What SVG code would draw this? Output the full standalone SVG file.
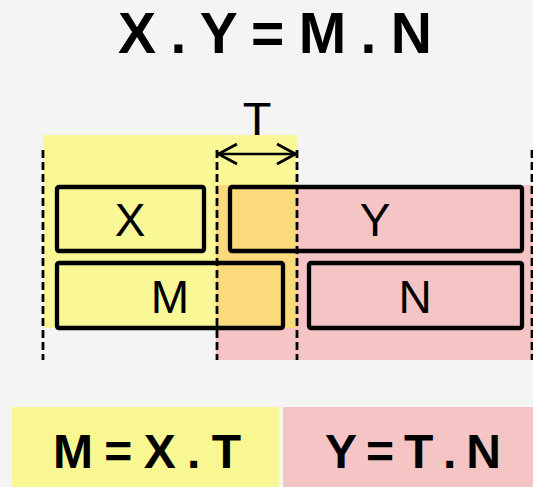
<svg xmlns="http://www.w3.org/2000/svg" width="533" height="487" viewBox="0 0 533 487">
  <style>
    .lbl { font-family: "Liberation Sans", Arial, sans-serif; fill: #000; text-anchor: middle; }
    .bold { font-weight: bold; }
    .box { fill: none; stroke: #000; stroke-width: 4.3; }
    .dash { stroke: #000; stroke-width: 2.8; stroke-dasharray: 8 4; fill: none; }
  </style>
  <defs>
    <marker id="chev" viewBox="0 0 22 24" refX="20" refY="12" markerWidth="22" markerHeight="24" markerUnits="userSpaceOnUse" orient="auto-start-reverse">
      <path d="M1 2 L19.5 12 L1 22" fill="none" stroke="#000" stroke-width="2.8"/>
    </marker>
  </defs>

  <rect width="533" height="487" fill="#f4f4f4"/>

  <!-- formula -->
  <text class="lbl bold" x="275" y="53" font-size="57" textLength="314" lengthAdjust="spacing">X . Y = M . N</text>

  <!-- shaded ranges -->
  <g id="ranges">
    <rect x="43" y="135" width="254" height="193" fill="#f9f796"/>
    <rect x="216" y="185" width="317" height="175" fill="#f5c4c4"/>
    <rect x="216" y="185" width="81" height="143" fill="#fada7a"/>
  </g>

  <!-- guides and span arrow -->
  <g id="connectors">
    <line class="dash" x1="43" y1="150" x2="43" y2="360"/>
    <line class="dash" x1="217" y1="150" x2="217" y2="360"/>
    <line class="dash" x1="297" y1="150" x2="297" y2="360"/>
    <line class="dash" x1="532" y1="150" x2="532" y2="360"/>
    <line x1="218" y1="154" x2="296" y2="154" stroke="#000" stroke-width="2.4" marker-start="url(#chev)" marker-end="url(#chev)"/>
  </g>

  <g id="T">
    <text class="lbl" x="257" y="135" font-size="47">T</text>
  </g>

  <g id="X">
    <rect class="box" x="57" y="187" width="147" height="64" rx="2"/>
    <text class="lbl" x="130" y="236" font-size="46">X</text>
  </g>
  <g id="M">
    <rect class="box" x="57" y="263" width="226" height="65" rx="2"/>
    <text class="lbl" x="170" y="313" font-size="46">M</text>
  </g>
  <g id="Y">
    <rect class="box" x="230" y="187" width="292" height="64" rx="2"/>
    <text class="lbl" x="375" y="236" font-size="46">Y</text>
  </g>
  <g id="N">
    <rect class="box" x="309" y="263" width="213" height="65" rx="2"/>
    <text class="lbl" x="415" y="313" font-size="46">N</text>
  </g>

  <!-- derived equations -->
  <g id="eqM">
    <rect x="12" y="407" width="267" height="80" fill="#f8f792"/>
    <text class="lbl bold" x="147" y="468" font-size="48" textLength="188" lengthAdjust="spacing">M = X . T</text>
  </g>
  <g id="eqY">
    <rect x="283" y="407" width="250" height="80" fill="#f5c4c4"/>
    <text class="lbl bold" x="413" y="468" font-size="48" textLength="176" lengthAdjust="spacing">Y = T . N</text>
  </g>
</svg>
